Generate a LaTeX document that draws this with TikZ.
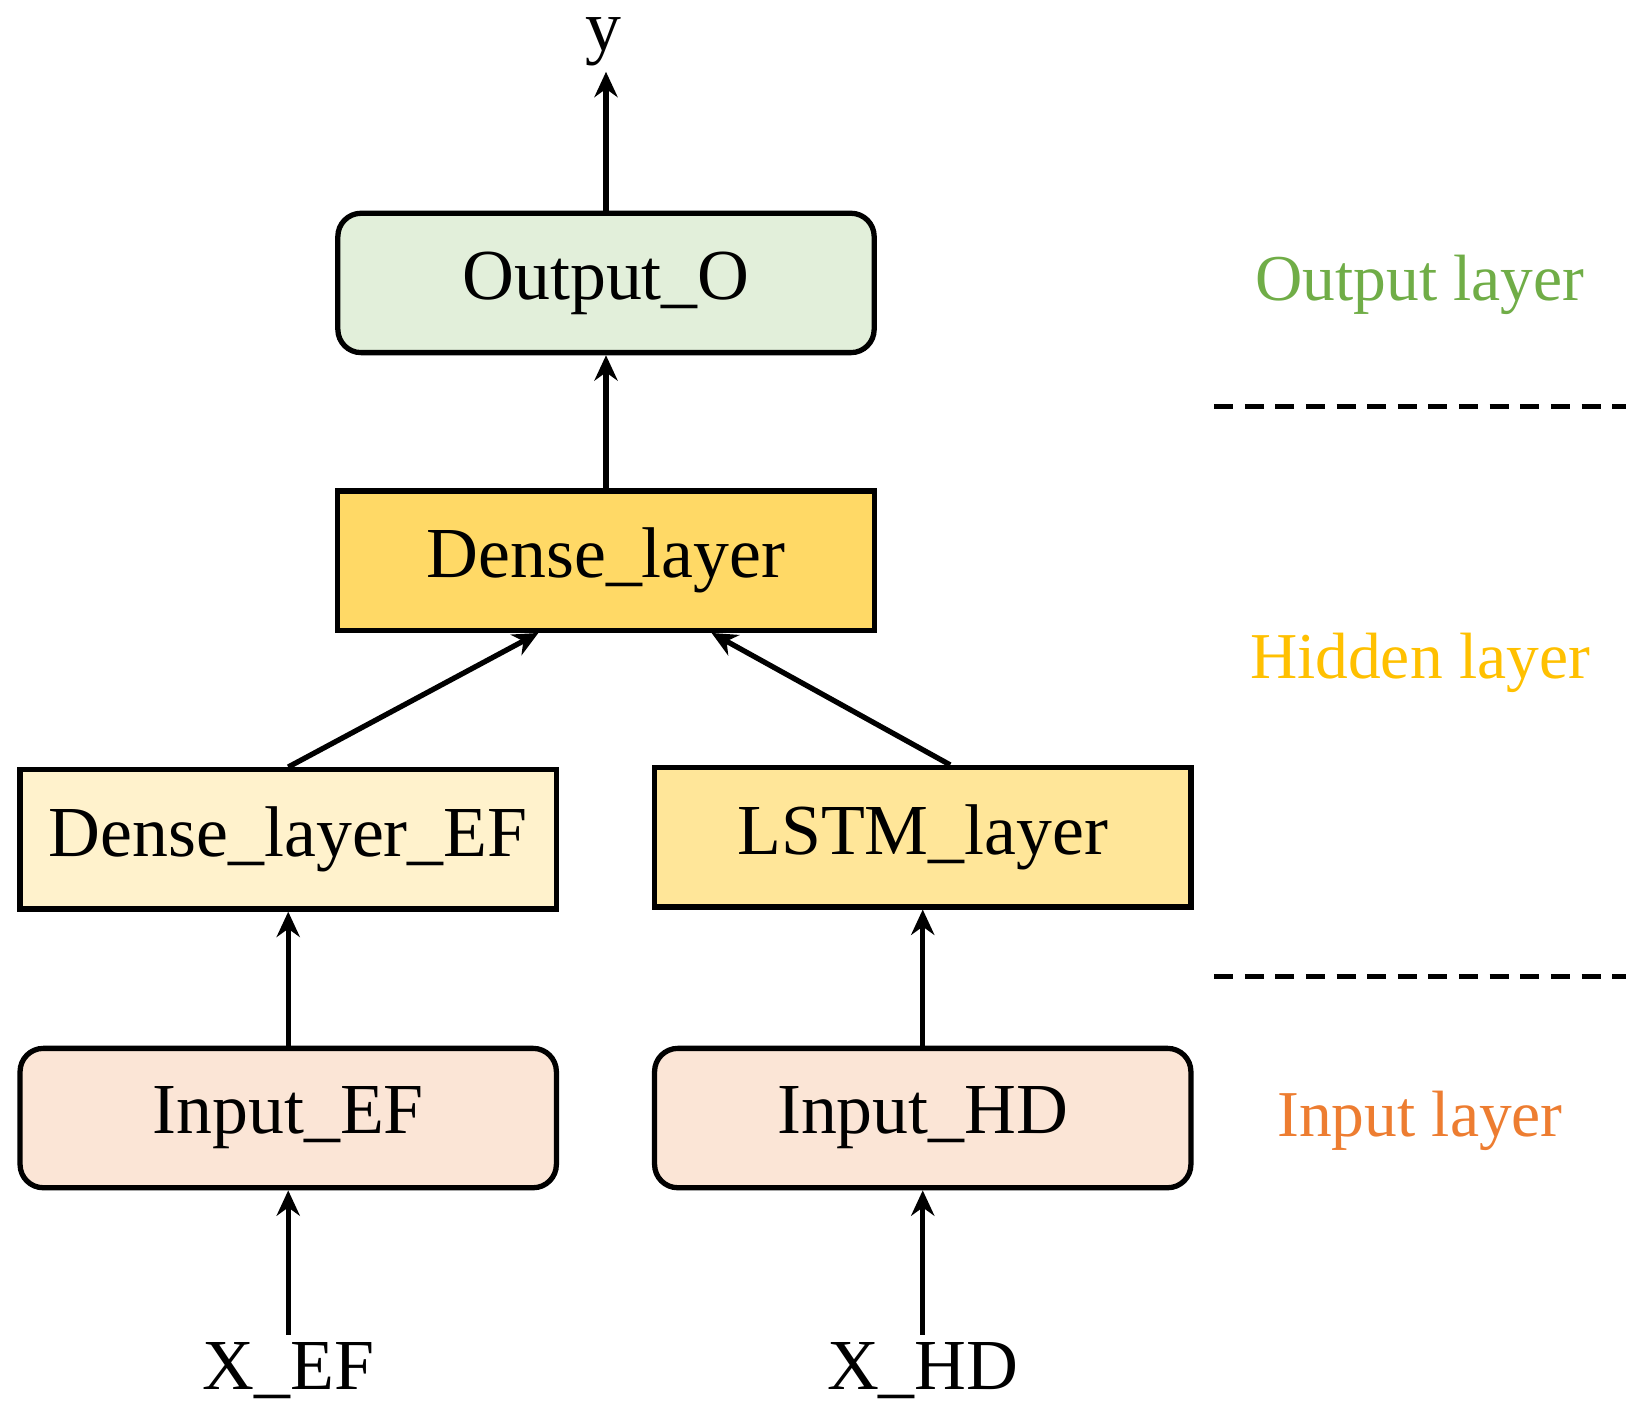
\documentclass[tikz,border=0pt]{standalone}
\usepackage{fontspec}
\setmainfont{Liberation Serif}
\usetikzlibrary{arrows.meta}
\definecolor{cgreen}{HTML}{E2EFDA}
\definecolor{cgold}{HTML}{FFD966}
\definecolor{clight}{HTML}{FFF2CC}
\definecolor{cmid}{HTML}{FFE699}
\definecolor{cpink}{HTML}{FBE5D6}
\definecolor{tgreen}{HTML}{70AD47}
\definecolor{tgold}{HTML}{FFC000}
\definecolor{torange}{HTML}{ED7D31}
\begin{document}
\begin{tikzpicture}[x=0.5pt,y=-0.5pt,
  box/.style={draw=black,line width=2.5pt,minimum width=254pt,minimum height=66pt,inner sep=0pt,font=\fontsize{34}{40}\selectfont},
  rbox/.style={box,rounded corners=11pt},
  lab/.style={font=\fontsize{34}{40}\selectfont},
  side/.style={font=\fontsize{31}{38}\selectfont},
  arr/.style={line width=2.5pt,-{Stealth[length=12pt,width=11pt]}},
  sep/.style={line width=2pt,dash pattern=on 9pt off 5.5pt}]
\useasboundingbox (0,0) rectangle (1560,1338);
\node[rbox,fill=cgreen] (out) at (574,268) {Output\_O};
\node[box,fill=cgold] (dense) at (574,531) {Dense\_layer};
\node[box,fill=clight] (def) at (273,795) {Dense\_layer\_EF};
\node[box,fill=cmid] (lstm) at (874,793) {LSTM\_layer};
\node[rbox,fill=cpink] (ief) at (273,1059) {Input\_EF};
\node[rbox,fill=cpink] (ihd) at (874,1059) {Input\_HD};
\node[lab] (y) at (572,40) {y};
\node[lab] (xef) at (273,1298) {X\_EF};
\node[lab] (xhd) at (874,1298) {X\_HD};
\coordinate (ytip) at (574,68);
\draw[arr] (out.north) -- (ytip);
\draw[arr] (dense.north) -- (out.south);
\draw[arr] (def.north) -- ([xshift=-32pt]dense.south);
\draw[arr] ([xshift=13pt]lstm.north) -- ([xshift=50pt]dense.south);
\draw[arr] (ief.north) -- (def.south);
\draw[arr] (ihd.north) -- (lstm.south);
\draw[arr] (xef.north) -- (ief.south);
\draw[arr] (xhd.north) -- (ihd.south);
\node[side,text=tgreen] (lo) at (1345,270) {Output layer};
\node[side,text=tgold] (lh) at (1345,628) {Hidden layer};
\node[side,text=torange] (li) at (1345,1062) {Input layer};
\coordinate (d1a) at (1150,385); \coordinate (d1b) at (1540,385);
\coordinate (d2a) at (1150,925); \coordinate (d2b) at (1540,925);
\draw[sep] (d1a) -- (d1b);
\draw[sep] (d2a) -- (d2b);
\end{tikzpicture}
\end{document}
